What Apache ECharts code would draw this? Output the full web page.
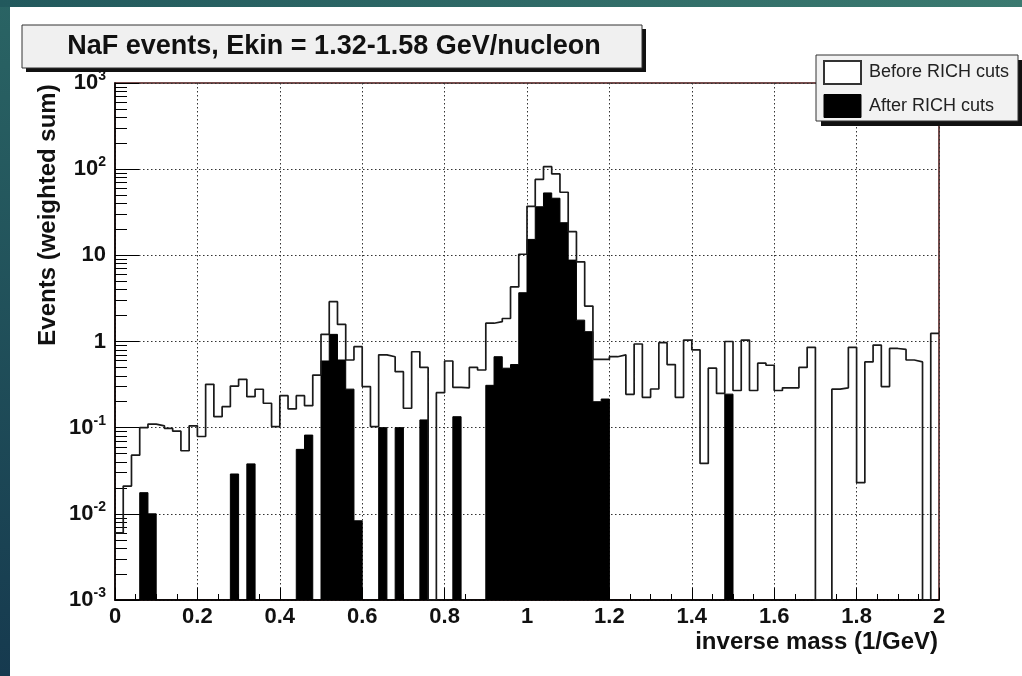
<!DOCTYPE html>
<html><head><meta charset="utf-8">
<script src="https://cdn.jsdelivr.net/npm/echarts@6/dist/echarts.min.js"></script>
<style>html,body{margin:0;padding:0;background:#fff}#main{width:1022px;height:676px}</style>
</head><body><div id="main"></div>
<script>
// ---- data (100 bins of width 0.02 in inverse mass, 0 = empty bin) ----
const binWidth = 0.02;
const before = [
  0.006, 0.021, 0.048, 0.10, 0.11, 0.105, 0.098, 0.091, 0.054, 0.105,
  0.079, 0.318, 0.134, 0.175, 0.304, 0.364, 0.229, 0.279, 0.192, 0.103,
  0.235, 0.165, 0.235, 0.18, 0.408, 1.21, 2.9, 1.58, 0.61, 0.87,
  0.30, 0.103, 0.70, 0.666, 0.447, 0.168, 0.76, 0.5, 0, 0.255,
  0.594, 0.294, 0.29, 0.5, 0.467, 1.63, 1.7, 1.85, 4.3, 10.3,
  37, 76, 107, 88, 54, 18.8, 8.4, 2.58, 0.62, 0.62,
  0.666, 0.70, 0.244, 0.935, 0.225, 0.281, 0.97, 0.54, 0.225, 1.04,
  0.80, 0.0385, 0.49, 0.25, 1.0, 0.27, 1.04, 0.27, 0.56, 0.53,
  0.27, 0.29, 0.29, 0.5, 0.855, 0, 0, 0.28, 0.29, 0.855,
  0.023, 0.58, 0.91, 0.30, 0.83, 0.81, 0.61, 0.58, 0, 1.24
];
const after = [
  0, 0, 0, 0.0176, 0.01, 0, 0, 0, 0, 0,
  0, 0, 0, 0, 0.029, 0, 0.038, 0, 0, 0,
  0, 0, 0.056, 0.082, 0, 0.594, 1.21, 0.61, 0.28, 0.0083,
  0, 0, 0.1, 0, 0.1, 0, 0, 0.123, 0, 0,
  0, 0.134, 0, 0, 0, 0.31, 0.666, 0.49, 0.54, 3.68,
  15.3, 36.6, 53, 46, 23.9, 8.8, 1.77, 1.3, 0.2, 0.215,
  0, 0, 0, 0, 0, 0, 0, 0, 0, 0,
  0, 0, 0, 0, 0.245, 0, 0, 0, 0, 0,
  0, 0, 0, 0, 0, 0, 0, 0, 0, 0,
  0, 0, 0, 0, 0, 0, 0, 0, 0, 0
];
const seriesNames = ['Before RICH cuts', 'After RICH cuts'];
const titleText = 'NaF events, Ekin = 1.32-1.58 GeV/nucleon';
const xTitle = 'inverse mass (1/GeV)';
const yTitle = 'Events (weighted sum)';
const xMin = 0, xMax = 2, xStep = 0.2;
const yMin = 0.001, yMax = 1000;

// histogram -> step-line points at bin left edges (+ closing edge)
function stepData(vals) {
  const d = vals.map((v, i) => [+(i * binWidth).toFixed(2), v > 0 ? v : yMin]);
  const last = vals[vals.length - 1];
  d.push([+(vals.length * binWidth).toFixed(2), last > 0 ? last : yMin]);
  return d;
}

const FONT = 'Liberation Sans';
const INK = '#111';
const chart = echarts.init(document.getElementById('main'), null, {renderer: 'canvas'});
chart.setOption({
  animation: false,
  backgroundColor: '#ffffff',
  grid: {left: 115, right: 83, top: 83, bottom: 76, containLabel: false, outerBoundsMode: 'none',
         show: true, borderColor: '#4a1212', borderWidth: 1.5, backgroundColor: 'transparent'},
  xAxis: {
    type: 'value', min: xMin, max: xMax, interval: xStep,
    axisLine: {show: true, lineStyle: {color: '#000', width: 1.5}},
    axisTick: {show: true, inside: true, length: 12, lineStyle: {color: '#000', width: 1}},
    minorTick: {show: true, splitNumber: 4, length: 6, lineStyle: {color: '#000', width: 1}},
    splitLine: {show: true, lineStyle: {color: '#333', width: 1, type: [1.5, 2.5]}},
    axisLabel: {color: INK, fontFamily: FONT, fontWeight: 'bold', fontSize: 22, margin: 6}
  },
  yAxis: {
    type: 'log', logBase: 10, min: yMin, max: yMax, splitNumber: 6,
    axisLine: {show: true, lineStyle: {color: '#000', width: 1.5}},
    axisTick: {show: true, inside: true, length: 24, lineStyle: {color: '#000', width: 1}},
    minorTick: {show: true, splitNumber: 9, length: 12, lineStyle: {color: '#000', width: 1}},
    splitLine: {show: true, lineStyle: {color: '#333', width: 1, type: [1.5, 2.5]}},
    axisLabel: {
      color: INK, fontFamily: FONT, fontWeight: 'bold', fontSize: 22, lineHeight: 28, margin: 9,
      formatter: function (v) {
        const e = Math.round(Math.log10(v));
        if (e === 0) return '1';
        if (e === 1) return '10';
        return '10{sup|' + e + '}';
      },
      rich: {sup: {fontSize: 14, lineHeight: 14, fontWeight: 'bold', fontFamily: FONT, color: INK, verticalAlign: 'top'}}
    }
  },
  legend: {
    show: true, orient: 'vertical', left: 823, top: 60, z: 20,
    itemWidth: 37, itemHeight: 23, itemGap: 9, padding: 0, selectedMode: false,
    textStyle: {fontFamily: FONT, fontSize: 18, color: '#222', padding: [0, 0, 0, 3]},
    data: [
      {name: seriesNames[0], icon: 'rect', itemStyle: {color: '#ffffff', borderColor: '#333', borderWidth: 2}},
      {name: seriesNames[1], icon: 'rect', itemStyle: {color: '#000000', borderColor: '#000', borderWidth: 1}}
    ]
  },
  series: [
    {
      name: seriesNames[1], type: 'line', step: 'end', data: stepData(after),
      showSymbol: false, symbol: 'none', z: 2,
      lineStyle: {color: '#000', width: 1},
      itemStyle: {color: '#000'},
      areaStyle: {color: '#000', opacity: 1, origin: 'start'}
    },
    {
      name: seriesNames[0], type: 'line', step: 'end', data: stepData(before),
      showSymbol: false, symbol: 'none', z: 3,
      lineStyle: {color: '#1a1a1a', width: 1.7},
      itemStyle: {color: '#ffffff'}
    }
  ],
  graphic: [
    {type: 'rect', z: 0, shape: {x: 0, y: 0, width: 10, height: 676},
     style: {fill: new echarts.graphic.LinearGradient(0, 0, 0, 1, [{offset: 0, color: '#2a6464'}, {offset: 1, color: '#163a4f'}])}},
    {type: 'rect', z: 0, shape: {x: 0, y: 0, width: 1022, height: 7},
     style: {fill: new echarts.graphic.LinearGradient(0, 0, 1, 0, [{offset: 0, color: '#22595d'}, {offset: 1, color: '#3b7a70'}])}},
    {type: 'rect', z: 10, shape: {x: 26, y: 29, width: 620, height: 43}, style: {fill: '#111'}},
    {type: 'rect', z: 11, shape: {x: 22, y: 25, width: 620, height: 43}, style: {fill: '#f0f0f0', stroke: '#333', lineWidth: 1}},
    {type: 'text', z: 12, x: 334, y: 47,
     style: {text: titleText, fontFamily: FONT, fontWeight: 'bold', fontSize: 27, fill: INK, align: 'center', verticalAlign: 'middle'}},
    {type: 'rect', z: 10, shape: {x: 821, y: 60, width: 202, height: 66}, style: {fill: '#111'}},
    {type: 'rect', z: 11, shape: {x: 816, y: 55, width: 202, height: 66}, style: {fill: '#f2f2f2', stroke: '#333', lineWidth: 1}},
    {type: 'text', z: 12, x: 48, y: 215, rotation: Math.PI / 2,
     style: {text: yTitle, fontFamily: FONT, fontWeight: 'bold', fontSize: 24, fill: INK, align: 'center', verticalAlign: 'middle'}},
    {type: 'text', z: 12, x: 938, y: 642,
     style: {text: xTitle, fontFamily: FONT, fontWeight: 'bold', fontSize: 24, fill: INK, align: 'right', verticalAlign: 'middle'}}
  ]
});
</script></body></html>
